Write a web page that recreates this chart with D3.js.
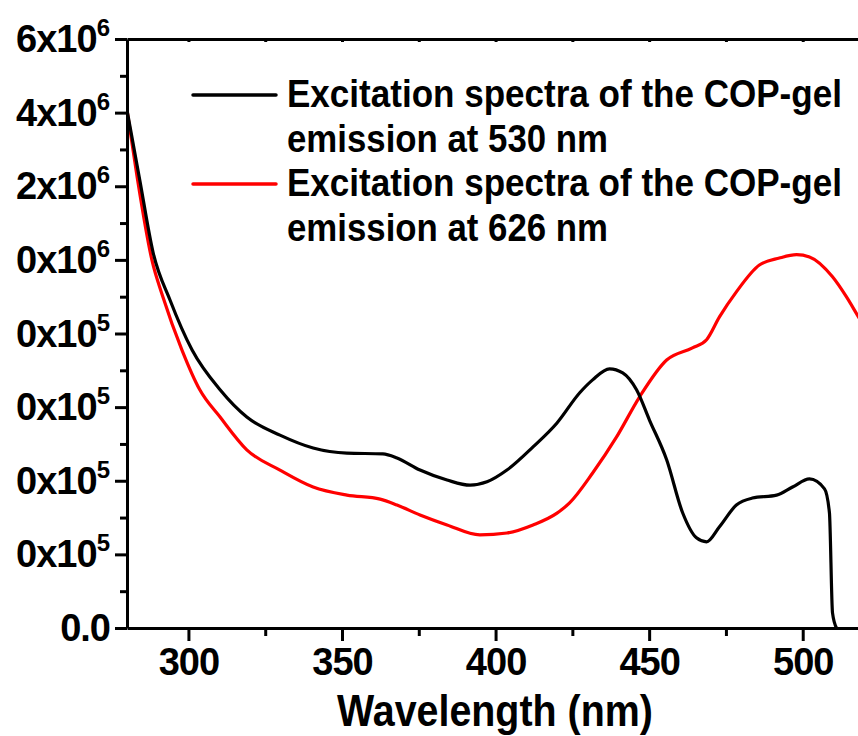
<!DOCTYPE html>
<html>
<head>
<meta charset="utf-8">
<script src="https://cdn.jsdelivr.net/npm/d3@7"></script>
<style>
  body { margin: 0; background: #fff; }
  svg { display: block; font-family: "Liberation Sans", Arial, sans-serif; font-weight: bold; }
</style>
</head>
<body>
<script>
// wavelength (nm) / intensity
let blackNm = [280.0, 284.2, 288.5, 294.0, 301.2, 310.3, 319.0, 329.8, 340.6, 351.6, 363.3, 367.9, 375.4, 384.2, 391.7, 397.2, 403.7, 412.2, 420.0, 427.4, 431.6, 437.1, 441.4, 445.9, 450.1, 455.7, 460.9, 465.4, 468.7, 472.9, 478.4, 483.6, 491.5, 496.7, 502.2, 507.1, 508.7, 509.7, 511.0]
let blackVal = [1.407e6, 1.215e6, 1.02e6, 8.91e5, 7.55e5, 6.47e5, 5.73e5, 5.24e5, 4.89e5, 4.75e5, 4.73e5, 4.62e5, 4.29e5, 4.02e5, 3.88e5, 3.97e5, 4.29e5, 4.92e5, 5.57e5, 6.39e5, 6.74e5, 7.04e5, 6.93e5, 6.47e5, 5.65e5, 4.57e5, 3.13e5, 2.45e5, 2.34e5, 2.75e5, 3.34e5, 3.53e5, 3.61e5, 3.83e5, 4.05e5, 3.78e5, 3.13e5, 4.1e4, 0]

let redNm = [280.0, 283.3, 288.1, 291.7, 297.9, 303.7, 310.3, 319.0, 329.8, 340.6, 351.6, 362.4, 367.9, 375.4, 384.2, 394.9, 403.7, 412.2, 420.0, 424.1, 431.6, 439.4, 446.9, 455.7, 464.1, 468.7, 472.9, 478.4, 485.9, 492.4, 498.0, 502.2, 509.7, 514.2, 517.8, 521.0]
let redVal = [1.407e6, 1.225e6, 1.0e6, 8.99e5, 7.55e5, 6.47e5, 5.73e5, 4.84e5, 4.29e5, 3.83e5, 3.61e5, 3.5e5, 3.34e5, 3.07e5, 2.8e5, 2.53e5, 2.58e5, 2.8e5, 3.12e5, 3.4e5, 4.21e5, 5.19e5, 6.28e5, 7.28e5, 7.61e5, 7.83e5, 8.45e5, 9.13e5, 9.86e5, 1.005e6, 1.014e6, 1.008e6, 9.54e5, 9.0e5, 8.5e5, 8.05e5]

let xTicks = [300, 350, 400, 450, 500]
let xMinor = [325, 375, 425, 475]
let yTicks = [0, 2e5, 4e5, 6e5, 8e5, 1e6, 1.2e6, 1.4e6, 1.6e6]
let yMinor = [1e5, 3e5, 5e5, 7e5, 9e5, 1.1e6, 1.3e6, 1.5e6]
let yTickBase = ['0.0', '0x10', '0x10', '0x10', '0x10', '0x10', '2x10', '4x10', '6x10']
let yTickExp = ['', '5', '5', '5', '5', '6', '6', '6', '6']

let legendLines = [
  ['Excitation spectra of the COP-gel', 'emission at 530 nm'],
  ['Excitation spectra of the COP-gel', 'emission at 626 nm']
]
let colors = ['#000000', '#ff0000']

let width = 858
let height = 736
let mLeft = 127, mTop = 39, mRight = 858, mBottom = 628

let svg = d3.select('body').append('svg')
  .attr('width', width)
  .attr('height', height)

let xScale = d3.scaleLinear().domain([280, 518]).range([mLeft, mRight])
let yScale = d3.scaleLinear().domain([0, 1.6e6]).range([mBottom, mTop])

svg.append('clipPath').attr('id', 'plot')
  .append('rect')
  .attr('x', mLeft).attr('y', mTop - 5)
  .attr('width', mRight - mLeft).attr('height', mBottom - mTop + 10)

// curves
let line = d3.line()
  .x(d => xScale(d[0]))
  .y(d => yScale(d[1]))
  .curve(d3.curveMonotoneX)

let series = [
  d3.zip(redNm, redVal),
  d3.zip(blackNm, blackVal)
]
let seriesColors = ['#ff0000', '#000000']

svg.append('g').attr('clip-path', 'url(#plot)')
  .selectAll('path')
  .data(series)
  .enter()
  .append('path')
  .attr('d', line)
  .attr('fill', 'none')
  .attr('stroke', (d, i) => seriesColors[i])
  .attr('stroke-width', 3.2)
  .attr('stroke-linejoin', 'round')

// axes
function styleAxis(g) {
  g.selectAll('path, line').attr('stroke', '#000').attr('stroke-width', 3)
  g.selectAll('text').attr('fill', '#000')
}

// bottom
svg.append('g')
  .attr('transform', `translate(0,${mBottom})`)
  .call(d3.axisBottom(xScale).tickValues(xTicks).tickSize(13).tickSizeOuter(0).tickPadding(7))
  .call(styleAxis)
  .call(g => g.selectAll('text')
    .attr('font-size', 38)
    .attr('font-family', '"Liberation Sans", Arial, sans-serif')
    .attr('font-weight', 'bold')
    .attr('letter-spacing', -1))

svg.append('g')
  .attr('transform', `translate(0,${mBottom})`)
  .call(d3.axisBottom(xScale).tickValues(xMinor).tickSize(8).tickFormat(''))
  .call(styleAxis)
  .call(g => g.select('.domain').remove())

// top frame
svg.append('g')
  .attr('transform', `translate(0,${mTop})`)
  .call(d3.axisTop(xScale).tickValues(xTicks.concat(xMinor)).tickSize(-3).tickSizeOuter(0).tickFormat(''))
  .call(styleAxis)

// left
let yAxis = svg.append('g')
  .attr('transform', `translate(${mLeft},0)`)
  .call(d3.axisLeft(yScale).tickValues(yTicks).tickSize(12).tickSizeOuter(0).tickFormat(''))
  .call(styleAxis)

yAxis.selectAll('.tick').each(function (d, i) {
  let t = d3.select(this).append('text')
    .attr('x', -17)
    .attr('dy', '0.33em')
    .attr('text-anchor', 'end')
    .attr('fill', '#000')
    .attr('font-size', 38)
    .attr('font-family', '"Liberation Sans", Arial, sans-serif')
    .attr('font-weight', 'bold')
    .attr('letter-spacing', -1)
  t.append('tspan').text(yTickBase[i])
  if (yTickExp[i]) {
    t.append('tspan')
      .attr('dy', -16)
      .attr('font-size', 24)
      .attr('letter-spacing', 0)
      .text(yTickExp[i])
  }
})

svg.append('g')
  .attr('transform', `translate(${mLeft},0)`)
  .call(d3.axisLeft(yScale).tickValues(yMinor).tickSize(7).tickFormat(''))
  .call(styleAxis)
  .call(g => g.select('.domain').remove())

// condensed text: squeeze horizontally to the width seen in the figure
function narrowText(parent, x, y, size, w, str) {
  let g = parent.append('g')
  let t = g.append('text').attr('font-size', size).text(str)
  let natural = t.node().getComputedTextLength()
  g.attr('transform', `translate(${x},${y}) scale(${w / natural},1)`)
  return t
}

// axis title
narrowText(svg, 337, 726, 45, 316, 'Wavelength (nm)')

// legend
let legend = svg.append('g')
legendLines.forEach((lines, i) => {
  let y0 = 95 + i * 89
  legend.append('line')
    .attr('x1', 193).attr('x2', 276)
    .attr('y1', y0).attr('y2', y0)
    .attr('stroke', colors[i])
    .attr('stroke-width', 3.5)
    .attr('stroke-linecap', 'round')
  narrowText(legend, 287, y0 + 12, 38, 555, lines[0])
  narrowText(legend, 287, y0 + 57, 38, 321, lines[1])
})
</script>
</body>
</html>
